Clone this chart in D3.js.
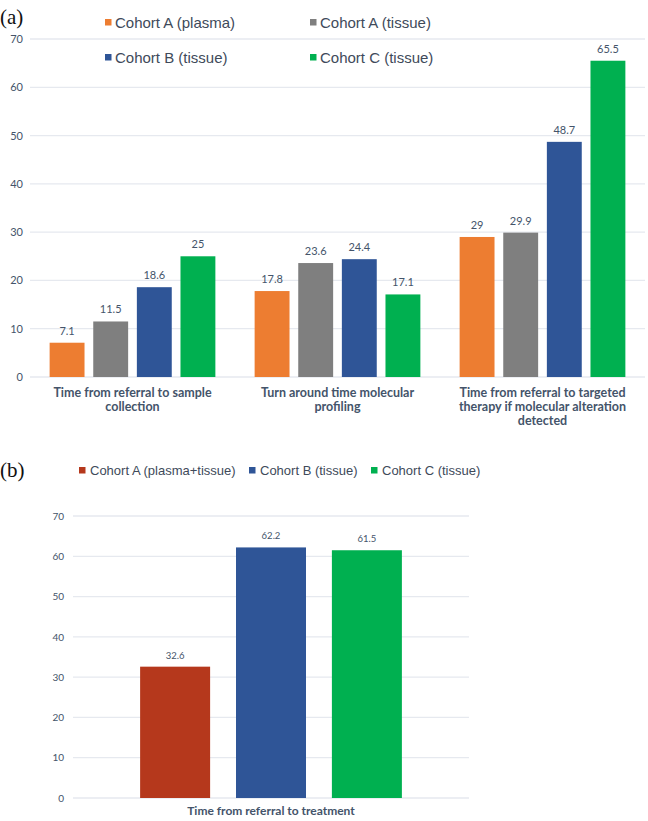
<!DOCTYPE html>
<html><head><meta charset="utf-8">
<script src="https://cdn.jsdelivr.net/npm/d3@7"></script>
<style>body{margin:0;background:#fff}svg{display:block}</style>
</head><body>
<svg id="c" width="648" height="821"></svg>
<script>
// ---- Data (a)
const catsA = ["Time from referral to sample collection", "Turn around time molecular profiling", "Time from referral to targeted therapy if molecular alteration detected"];
const catLinesA = [["Time from referral to sample","collection"],["Turn around time molecular","profiling"],["Time from referral to targeted","therapy if molecular alteration","detected"]];
const seriesA = ["Cohort A (plasma)", "Cohort A (tissue)", "Cohort B (tissue)", "Cohort C (tissue)"];
const colorsA = ["#ed7d31", "#7f7f7f", "#2f5597", "#00b050"];
const valsPlasmaA = [7.1, 17.8, 29];
const valsTissueA = [11.5, 23.6, 29.9];
const valsTissueB = [18.6, 24.4, 48.7];
const valsTissueC = [25, 17.1, 65.5];
const ticksA = [0,10,20,30,40,50,60,70];
// ---- Data (b)
const catsB = ["Time from referral to treatment"];
const seriesB = ["Cohort A (plasma+tissue)", "Cohort B (tissue)", "Cohort C (tissue)"];
const colorsB = ["#b5381c", "#2f5597", "#00b050"];
const valsB = [32.6, 62.2, 61.5];
const ticksB = [0,10,20,30,40,50,60,70];

const svg = d3.select("#c");
const txtCol = "#44546a";
const gridCol = "#e6e9ef";
const catFont = "Liberation Sans Narrow, Arial Narrow, Lato, sans-serif";

// ===== Panel (a)
svg.append("text").attr("x",0).attr("y",24).attr("font-family","Liberation Serif, Times New Roman, serif").attr("font-size",21).attr("fill","#111").text("(a)");

const xA = d3.scaleBand().domain(catsA).range([30,645]).paddingInner(0).paddingOuter(0);
const xInA = d3.scaleBand().domain(seriesA).range([0,xA.bandwidth()]).paddingInner(0.2).paddingOuter(0.45);
const yA = d3.scaleLinear().domain([0,70]).range([377,39]);

const gA = svg.append("g");
gA.selectAll("line.grid").data(ticksA).join("line")
  .attr("x1",30).attr("x2",645).attr("y1",d=>yA(d)).attr("y2",d=>yA(d))
  .attr("stroke",gridCol).attr("stroke-width",1.3);
const yAxA = d3.axisLeft(yA).tickValues(ticksA).tickSize(0).tickPadding(0);
const axA = gA.append("g").attr("transform","translate(23,0)").call(yAxA);
axA.select(".domain").remove();
axA.selectAll("text").attr("font-family","Lato, Open Sans, sans-serif").attr("font-size",11).attr("fill",txtCol);

const dataA = catsA.map((c,i)=>({cat:c, vals:[valsPlasmaA[i],valsTissueA[i],valsTissueB[i],valsTissueC[i]]}));
const grpA = gA.selectAll("g.grp").data(dataA).join("g").attr("transform",d=>`translate(${xA(d.cat)},0)`);
grpA.selectAll("rect").data(d=>d.vals.map((v,j)=>({s:seriesA[j],v,j}))).join("rect")
  .attr("x",d=>xInA(d.s)).attr("width",xInA.bandwidth())
  .attr("y",d=>yA(d.v)).attr("height",d=>yA(0)-yA(d.v))
  .attr("fill",d=>colorsA[d.j]);
grpA.selectAll("text.val").data(d=>d.vals.map((v,j)=>({s:seriesA[j],v,j}))).join("text")
  .attr("class","val").attr("x",d=>xInA(d.s)+xInA.bandwidth()/2).attr("y",d=>yA(d.v)-8)
  .attr("text-anchor","middle").attr("font-family","Lato, Open Sans, sans-serif").attr("font-size",11).attr("fill",txtCol)
  .text(d=>d.v);
// category labels
catsA.forEach((c,i)=>{
  const t = gA.append("text").attr("text-anchor","middle").attr("font-family",catFont)
    .attr("font-weight","bold").attr("font-size",12.5).attr("fill",txtCol);
  catLinesA[i].forEach((ln,k)=>{
    t.append("tspan").attr("x",xA(c)+xA.bandwidth()/2).attr("y",397+k*14).text(ln);
  });
});
// legend (a)
const legPosA = [[105,22],[310,22],[105,57],[310,57]];
seriesA.forEach((s,i)=>{
  const [lx,ly] = legPosA[i];
  svg.append("rect").attr("x",lx).attr("y",ly-3).attr("width",6.5).attr("height",6.5).attr("fill",colorsA[i]);
  svg.append("text").attr("x",lx+10).attr("y",ly+5.5).attr("font-family","Liberation Sans, Arial, sans-serif")
    .attr("font-size",15).attr("fill","#404a5a").text(s);
});

// ===== Panel (b)
svg.append("text").attr("x",0).attr("y",477).attr("font-family","Liberation Serif, Times New Roman, serif").attr("font-size",21).attr("fill","#111").text("(b)");

const xB = d3.scaleBand().domain(catsB).range([73,469]);
const xInB = d3.scaleBand().domain(seriesB).range([0,xB.bandwidth()]).paddingInner(0.27).paddingOuter(0.7);
const yB = d3.scaleLinear().domain([0,70]).range([798,516]);
const gB = svg.append("g");
gB.selectAll("line.grid").data(ticksB).join("line")
  .attr("x1",73).attr("x2",469).attr("y1",d=>yB(d)).attr("y2",d=>yB(d))
  .attr("stroke",gridCol).attr("stroke-width",1.3);
const axB = gB.append("g").attr("transform","translate(64,0)").call(d3.axisLeft(yB).tickValues(ticksB).tickSize(0).tickPadding(0));
axB.select(".domain").remove();
axB.selectAll("text").attr("font-family","Lato, Open Sans, sans-serif").attr("font-size",10).attr("fill",txtCol);
const dataB = valsB.map((v,j)=>({s:seriesB[j],v,j}));
gB.selectAll("rect").data(dataB).join("rect")
  .attr("x",d=>xB(catsB[0])+xInB(d.s)).attr("width",xInB.bandwidth())
  .attr("y",d=>yB(d.v)).attr("height",d=>yB(0)-yB(d.v)).attr("fill",d=>colorsB[d.j]);
gB.selectAll("text.val").data(dataB).join("text").attr("class","val")
  .attr("x",d=>xB(catsB[0])+xInB(d.s)+xInB.bandwidth()/2).attr("y",d=>yB(d.v)-8)
  .attr("text-anchor","middle").attr("font-family","Lato, Open Sans, sans-serif").attr("font-size",9.5).attr("fill",txtCol)
  .text(d=>d.v);
gB.append("text").attr("x",xB(catsB[0])+xB.bandwidth()/2).attr("y",815).attr("text-anchor","middle")
  .attr("font-family",catFont).attr("font-weight","bold").attr("font-size",12).attr("fill",txtCol).text(catsB[0]);
// legend (b)
const legXB = [79,249,371];
seriesB.forEach((s,i)=>{
  svg.append("rect").attr("x",legXB[i]).attr("y",467).attr("width",6.5).attr("height",6.5).attr("fill",colorsB[i]);
  svg.append("text").attr("x",legXB[i]+11).attr("y",475).attr("font-family","Liberation Sans, Arial, sans-serif")
    .attr("font-size",13).attr("fill","#404a5a").text(s);
});
</script>
</body></html>
